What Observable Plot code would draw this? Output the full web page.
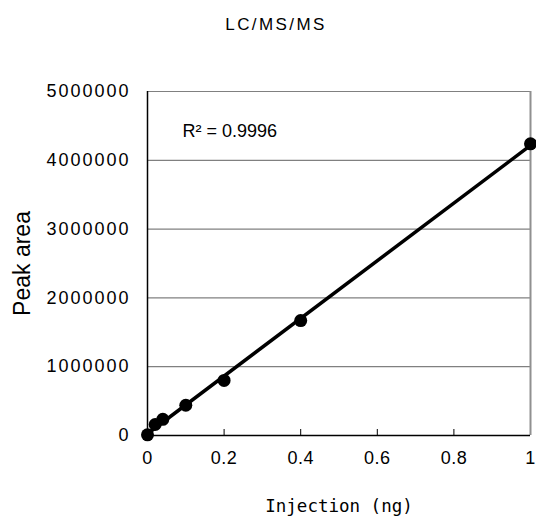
<!DOCTYPE html>
<html>
<head>
<meta charset="utf-8">
<script src="https://cdn.jsdelivr.net/npm/d3@7"></script>
<script src="https://cdn.jsdelivr.net/npm/@observablehq/plot@0.6"></script>
<style>
  html, body { margin: 0; padding: 0; background: #fff; }
  #chart svg { display: block; }
  g[aria-label="y-axis tick label"] { letter-spacing: 2px; }
  g[aria-label="x-axis tick label"] { letter-spacing: 0.5px; }
  .title-text { letter-spacing: 2.4px; }
</style>
</head>
<body>
<div id="chart"></div>
<script>
const title = "LC/MS/MS";
const xLabel = "Injection (ng)";
const yLabel = "Peak area";
const r2Label = "R\u00B2 = 0.9996";
const injection = [0, 0.02, 0.04, 0.1, 0.2, 0.4, 1];
const peakArea = [10000, 160000, 235000, 440000, 800000, 1670000, 4240000];
const xTicks = [0, 0.2, 0.4, 0.6, 0.8, 1];
const yTicks = [0, 1000000, 2000000, 3000000, 4000000, 5000000];

const data = injection.map((x, i) => ({x, y: peakArea[i]}));
const sans = "'Liberation Sans', Arial, sans-serif";
const mono = "'DejaVu Sans Mono', monospace";

const chart = Plot.plot({
  width: 536,
  height: 517,
  marginTop: 91,
  marginRight: 6,
  marginBottom: 82,
  marginLeft: 147,
  style: {fontFamily: sans, fontSize: "18px", color: "#000", background: "#fff"},
  x: {domain: [0, 1]},
  y: {domain: [0, 5000000]},
  marks: [
    Plot.ruleY(yTicks.slice(1), {stroke: "#808080", strokeWidth: 1.2}),
    Plot.ruleX([1], {stroke: "#909090", strokeWidth: 2}),
    Plot.ruleX(xTicks.slice(1, -1), {y1: 0, y2: 0, insetTop: -6, stroke: "#000", strokeWidth: 1}),
    Plot.ruleX([0], {stroke: "#000", strokeWidth: 1.5}),
    Plot.ruleY([0], {stroke: "#000", strokeWidth: 1.5}),
    Plot.axisX(xTicks, {tickSize: 0, tickPadding: 16, tickFormat: d => String(d), fontSize: 18, label: null}),
    Plot.axisY(yTicks, {tickSize: 0, tickPadding: 17, tickFormat: d => String(d), fontSize: 18, label: null}),
    Plot.linearRegressionY(data, {x: "x", y: "y", ci: 0, stroke: "#000", strokeWidth: 3.5}),
    Plot.dot(data, {x: "x", y: "y", r: 6.5, fill: "#000", stroke: "none"}),
    Plot.text([r2Label], {frameAnchor: "top-left", dx: 35, dy: 40, textAnchor: "start", lineAnchor: "middle", fontSize: 18, fontFamily: sans}),
    Plot.text([title], {frameAnchor: "top", dx: -63, dy: -67, textAnchor: "middle", lineAnchor: "middle", fontSize: 17, fontFamily: sans, className: "title-text"}),
    Plot.text([yLabel], {frameAnchor: "left", dx: -125, rotate: -90, textAnchor: "middle", lineAnchor: "middle", fontSize: 23, fontFamily: sans}),
    Plot.text([xLabel], {frameAnchor: "bottom", dy: 71, textAnchor: "middle", lineAnchor: "middle", fontSize: 17.5, fontFamily: mono})
  ]
});
document.getElementById("chart").appendChild(chart);
</script>
</body>
</html>
